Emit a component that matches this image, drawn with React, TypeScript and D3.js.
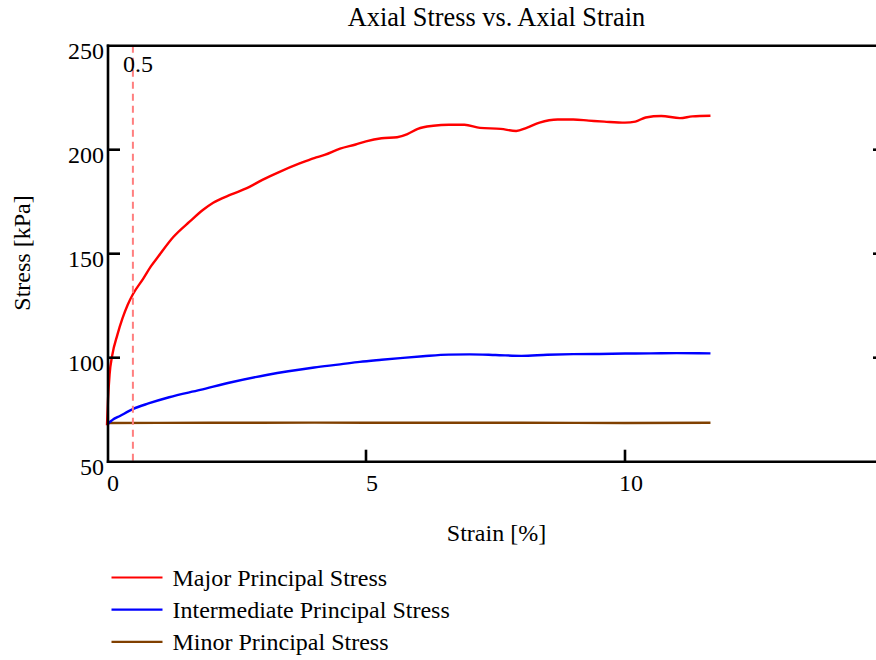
import React from "react";
import * as d3 from "d3";

// Strain [%] / stress [kPa] readings for the three principal stresses
const majorStrain = [0, 0.02, 0.05, 0.1, 0.2, 0.3, 0.4, 0.5, 0.7, 0.85, 1.0, 1.28, 1.6, 1.85, 2.05, 2.4, 2.7, 3.0, 3.3, 3.73, 4.0, 4.2, 4.5, 4.8, 5.0, 5.3, 5.6, 5.8, 6.0, 6.3, 6.6, 6.9, 7.2, 7.6, 7.9, 8.1, 8.35, 8.7, 9.0, 9.3, 9.6, 10.0, 10.2, 10.4, 10.7, 11.06, 11.3, 11.65];
const majorStress = [67.5, 80, 92, 101, 111, 119, 125.5, 130.5, 138, 144, 149, 158, 165.5, 171, 174.5, 178.5, 181.5, 185.5, 189, 193.5, 196, 197.5, 200.5, 202.5, 204, 205.5, 206, 207.5, 210, 211.5, 212, 212, 210.5, 210, 209, 210.5, 213, 214.5, 214.5, 214, 213.5, 213, 213.5, 215.5, 216.2, 215.2, 216, 216.3];

const interStrain = [0, 0.05, 0.1, 0.25, 0.5, 0.8, 1.2, 1.8, 2.4, 3.08, 3.5, 4.0, 4.5, 4.88, 5.3, 5.66, 6.1, 6.6, 7.0, 7.5, 8.0, 8.5, 9.0, 9.5, 10.0, 10.5, 11.0, 11.65];
const interStress = [67.5, 69, 70, 72, 75.3, 78, 81, 84.5, 88.2, 91.7, 93.5, 95.3, 96.8, 98, 99, 99.8, 100.7, 101.5, 101.6, 101.3, 100.9, 101.4, 101.7, 101.8, 102, 102.1, 102.2, 102.1];

const minorStrain = [0, 2, 4, 6, 8, 10, 11.65];
const minorStress = [68.6, 68.7, 68.8, 68.7, 68.7, 68.6, 68.7];

const xTicks = [0, 5, 10];
const yTicks = [50, 100, 150, 200, 250];
const markerStrain = 0.5;

const seriesNames = ["Major Principal Stress", "Intermediate Principal Stress", "Minor Principal Stress"];
const seriesColors = ["#ff0000", "#0000ff", "#804000"];

const FONT = "'Liberation Serif', 'Times New Roman', serif";

export default function App() {
  const width = 876;
  const height = 660;
  const x = d3.scaleLinear().domain([0, 15]).range([107, 884]);
  const y = d3.scaleLinear().domain([50, 250]).range([461.7, 45.7]);
  const left = 108;
  const right = 885;
  const top = y(250);
  const bottom = y(50);

  const line = d3
    .line<[number, number]>()
    .x((d) => x(d[0]))
    .y((d) => y(d[1]))
    .curve(d3.curveMonotoneX);

  const series: [number, number][][] = [
    majorStrain.map((s, i) => [s, majorStress[i]]),
    interStrain.map((s, i) => [s, interStress[i]]),
    minorStrain.map((s, i) => [s, minorStress[i]]),
  ];

  const tickLen = 12;
  const fs = 24;

  return (
    <svg
      width={width}
      height={height}
      style={{ position: "absolute", left: 0, top: 0, background: "#fff" }}
      fontFamily={FONT}
    >
      <rect x={0} y={0} width={width} height={height} fill="#fff" />
      {/* title */}
      <text x={(left + right) / 2} y={26} textAnchor="middle" fontSize={26.3} fill="#000">
        Axial Stress vs. Axial Strain
      </text>

      {/* data lines (drawn under frame) */}
      {series
        .slice()
        .reverse()
        .map((pts, ri) => {
          const i = series.length - 1 - ri;
          return (
            <path
              key={i}
              d={line(pts) || ""}
              fill="none"
              stroke={seriesColors[i]}
              strokeWidth={2.4}
              strokeLinejoin="round"
            />
          );
        })}

      {/* marker */}
      <line
        x1={x(markerStrain)}
        x2={x(markerStrain)}
        y1={top}
        y2={bottom}
        stroke="#ff7f7f"
        strokeWidth={2}
        strokeDasharray="7,5"
      />
      <text x={x(markerStrain) - 10} y={72} fontSize={fs} fill="#000">
        0.5
      </text>

      {/* frame */}
      <line x1={left} x2={left} y1={top - 1.2} y2={bottom + 1.2} stroke="#000" strokeWidth={2.6} />
      <line x1={left - 1.2} x2={right} y1={bottom} y2={bottom} stroke="#000" strokeWidth={2.6} />
      <line x1={left - 1.2} x2={right} y1={top} y2={top} stroke="#000" strokeWidth={2.6} />

      {/* y ticks */}
      {yTicks.map((t) => (
        <g key={t}>
          {t !== 50 && t !== 250 && (
            <>
              <line x1={left} x2={left + tickLen} y1={y(t)} y2={y(t)} stroke="#000" strokeWidth={2.6} />
              <line x1={right - tickLen} x2={right} y1={y(t)} y2={y(t)} stroke="#000" strokeWidth={2.6} />
            </>
          )}
          <text x={104} y={y(t) + 13.5} textAnchor="end" fontSize={fs} fill="#000">
            {t}
          </text>
        </g>
      ))}

      {/* x ticks */}
      {xTicks.map((t) => (
        <g key={t}>
          {t !== 0 && (
            <line x1={x(t)} x2={x(t)} y1={bottom} y2={bottom - tickLen} stroke="#000" strokeWidth={2.6} />
          )}
          <text x={x(t) + 6} y={bottom + 29.5} textAnchor="middle" fontSize={fs} fill="#000">
            {t}
          </text>
        </g>
      ))}

      {/* axis titles */}
      <text x={(left + right) / 2} y={541} textAnchor="middle" fontSize={fs} fill="#000">
        Strain [%]
      </text>
      <text
        transform={`translate(30, 253) rotate(-90)`}
        textAnchor="middle"
        fontSize={fs}
        fill="#000"
      >
        Stress [kPa]
      </text>

      {/* legend */}
      {seriesNames.map((name, i) => {
        const ly = 577.5 + i * 32.2;
        return (
          <g key={name}>
            <line x1={111.5} x2={162.5} y1={ly} y2={ly} stroke={seriesColors[i]} strokeWidth={2.2} />
            <text x={172.5} y={ly + 8.5} fontSize={fs} fill="#000">
              {name}
            </text>
          </g>
        );
      })}
    </svg>
  );
}
